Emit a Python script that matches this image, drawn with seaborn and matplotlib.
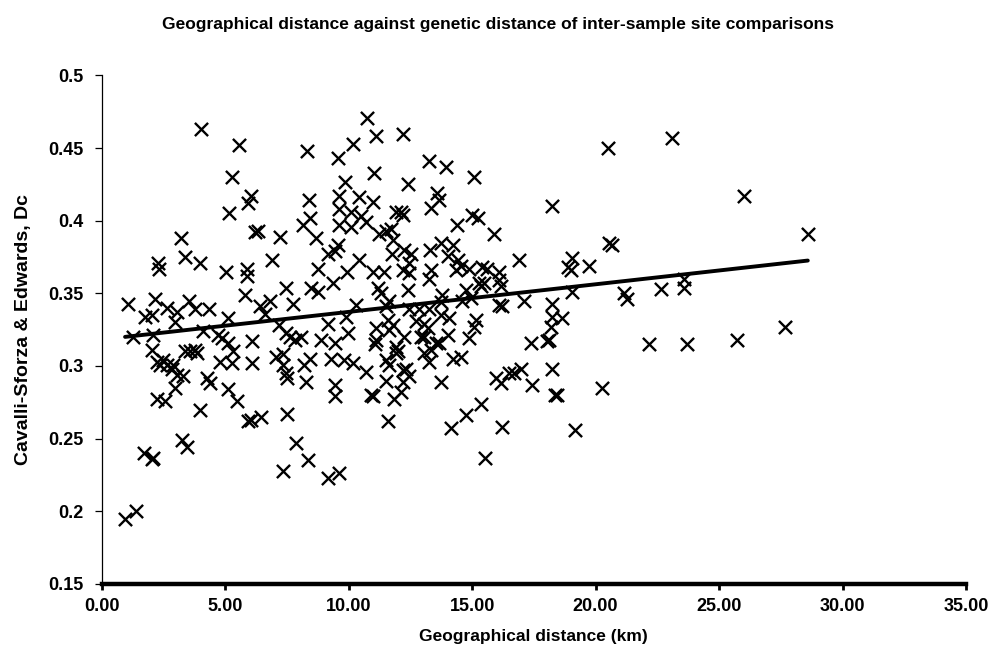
# Geographical distance vs genetic distance (Cavalli-Sforza & Edwards Dc)

import numpy as np
import pandas as pd
import matplotlib
matplotlib.use('Agg')
import matplotlib.pyplot as plt
import seaborn as sns
from matplotlib.ticker import FormatStrFormatter

# 数据
geo_km = [
    4.01, 5.56, 5.29, 6.03, 5.94, 5.17, 6.21, 3.20, 3.38, 3.98, 2.27, 2.33, 5.03, 5.90, 5.87, 5.80,
    1.05, 2.17, 1.74, 2.03, 2.64, 3.04, 3.52, 3.78, 4.36, 2.97, 5.13, 1.29, 2.10, 4.12, 4.73, 4.86, 6.07,
    2.03, 2.23, 2.50, 2.64, 2.84, 2.37, 2.91, 3.04, 3.31, 2.97, 3.38, 3.58, 3.78, 3.85, 2.23, 2.57,
    3.98, 4.25, 4.39, 5.13, 5.33, 4.79, 5.26, 5.13, 5.47, 6.07, 5.94, 1.70, 2.03, 2.10, 3.24, 3.45,
    0.95, 1.40,
    10.73, 11.11, 12.21, 10.19, 8.31, 9.56, 11.04, 9.87, 12.39, 8.39, 9.63, 10.44, 11.00, 9.60, 10.10,
    11.92, 12.12, 8.42, 8.15, 10.50, 10.71, 9.60, 10.10, 12.19, 6.33, 7.23, 8.69, 11.24, 11.51, 11.72,
    11.78, 9.56, 9.43, 9.16, 6.91, 10.41, 8.75, 9.92, 10.97, 11.45, 11.76, 12.25, 12.19, 9.38, 7.47,
    8.48, 8.75, 11.18, 11.31, 12.39, 6.80, 6.40, 6.60, 7.74, 10.30, 11.51, 11.65, 9.90, 7.20, 7.47,
    7.61, 9.16, 11.58, 11.78, 11.65, 11.11, 9.97, 8.08, 7.81, 8.89, 9.43, 11.11, 12.25, 11.92,
    7.07, 7.34, 7.34, 7.47, 7.50, 8.21, 8.42, 8.28, 9.29, 9.83, 10.17, 9.43, 9.43, 10.71, 10.91, 10.97,
    11.08, 11.51, 11.65, 11.92, 11.98, 11.51, 12.19, 12.19, 12.12, 11.85, 6.06, 6.46, 7.50, 11.58,
    7.88, 8.35, 7.34, 9.16, 9.60,
    13.24, 13.94, 15.08, 13.56, 13.64, 13.33, 18.25, 15.01, 15.22, 14.37, 15.89, 12.53, 12.46, 12.46,
    13.29, 13.33, 13.27, 13.74, 14.21, 14.01, 14.42, 14.35, 14.55, 14.88, 15.42, 15.62, 16.10, 16.10,
    16.16, 16.90, 15.28, 15.49, 15.35, 14.75, 14.61, 14.95, 13.80, 13.74, 16.10, 16.23, 17.10, 18.25,
    18.25, 18.18, 18.12, 12.46, 12.86, 13.27, 12.73, 13.06, 13.20, 13.74, 14.08, 15.15, 15.08, 12.93,
    13.06, 14.01, 13.53, 14.88, 17.37, 18.04,
    12.32, 12.46, 13.06, 13.33, 13.27, 13.67, 14.21, 14.55, 13.74, 15.96, 16.16, 16.50, 16.70, 16.97,
    17.41, 18.25, 18.36, 15.35, 14.75, 14.14, 16.23, 15.53,
    23.10, 20.51, 26.00, 20.54, 20.67, 19.05, 18.89, 18.99, 19.73, 19.03, 21.14, 21.28, 22.66, 23.57,
    23.57, 18.65, 22.15, 23.70, 25.72,
    18.45, 20.24, 19.16, 28.59, 27.67,
]
dc = [
    0.463, 0.452, 0.430, 0.417, 0.412, 0.405, 0.392, 0.388, 0.375, 0.371, 0.371, 0.367, 0.365, 0.367, 0.362, 0.349,
    0.343, 0.346, 0.334, 0.335, 0.340, 0.337, 0.345, 0.339, 0.339, 0.330, 0.333, 0.320, 0.321, 0.324, 0.321, 0.319, 0.317,
    0.311, 0.303, 0.304, 0.301, 0.298, 0.301, 0.301, 0.294, 0.293, 0.285, 0.310, 0.310, 0.311, 0.309, 0.277, 0.276,
    0.270, 0.292, 0.288, 0.316, 0.310, 0.303, 0.302, 0.284, 0.276, 0.302, 0.262, 0.240, 0.236, 0.237, 0.249, 0.244,
    0.195, 0.200,
    0.471, 0.458, 0.460, 0.453, 0.448, 0.443, 0.433, 0.427, 0.425, 0.414, 0.417, 0.416, 0.413, 0.408, 0.406,
    0.406, 0.406, 0.402, 0.397, 0.403, 0.399, 0.397, 0.396, 0.404, 0.393, 0.389, 0.388, 0.391, 0.393, 0.394,
    0.387, 0.383, 0.379, 0.377, 0.373, 0.373, 0.367, 0.365, 0.365, 0.365, 0.377, 0.380, 0.366, 0.357, 0.354,
    0.354, 0.351, 0.354, 0.350, 0.352, 0.345, 0.341, 0.336, 0.343, 0.342, 0.341, 0.345, 0.334, 0.328, 0.323,
    0.320, 0.329, 0.332, 0.328, 0.325, 0.326, 0.323, 0.320, 0.318, 0.318, 0.316, 0.318, 0.320, 0.313,
    0.306, 0.308, 0.301, 0.295, 0.292, 0.301, 0.305, 0.289, 0.305, 0.304, 0.302, 0.287, 0.279, 0.296, 0.280, 0.279,
    0.315, 0.304, 0.301, 0.309, 0.310, 0.290, 0.297, 0.289, 0.282, 0.277, 0.263, 0.265, 0.267, 0.262,
    0.247, 0.235, 0.228, 0.223, 0.226,
    0.441, 0.437, 0.430, 0.419, 0.414, 0.409, 0.410, 0.404, 0.402, 0.397, 0.391, 0.377, 0.371, 0.364,
    0.380, 0.366, 0.360, 0.385, 0.383, 0.376, 0.373, 0.366, 0.369, 0.367, 0.368, 0.367, 0.365, 0.359,
    0.355, 0.373, 0.357, 0.357, 0.355, 0.352, 0.345, 0.347, 0.349, 0.344, 0.342, 0.341, 0.345, 0.343,
    0.334, 0.327, 0.318, 0.339, 0.339, 0.339, 0.331, 0.329, 0.326, 0.335, 0.333, 0.332, 0.327, 0.320,
    0.320, 0.321, 0.316, 0.319, 0.316, 0.317,
    0.298, 0.293, 0.309, 0.311, 0.303, 0.316, 0.305, 0.306, 0.289, 0.292, 0.288, 0.295, 0.295, 0.298,
    0.287, 0.298, 0.280, 0.274, 0.266, 0.257, 0.258, 0.237,
    0.457, 0.450, 0.417, 0.385, 0.383, 0.374, 0.368, 0.366, 0.369, 0.351, 0.350, 0.346, 0.353, 0.360,
    0.354, 0.333, 0.315, 0.315, 0.318,
    0.280, 0.285, 0.256, 0.391, 0.327,
]

x_ticks = np.arange(0, 35.01, 5)
y_ticks = [0.15, 0.2, 0.25, 0.3, 0.35, 0.4, 0.45, 0.5]

df = pd.DataFrame({'geo': geo_km, 'dc': dc})

sns.set_style('white')
plt.rcParams['font.family'] = ['Liberation Sans', 'DejaVu Sans']
plt.rcParams['text.color'] = 'black'
plt.rcParams['axes.labelcolor'] = 'black'
plt.rcParams['xtick.color'] = 'black'
plt.rcParams['ytick.color'] = 'black'

fig, ax = plt.subplots(figsize=(9.96, 6.62), dpi=100)
plt.subplots_adjust(left=0.102, right=0.970, top=0.886, bottom=0.118)

# 散点
sns.scatterplot(data=df, x='geo', y='dc', marker='x', color='black',
                s=90, linewidth=1.7, ax=ax, legend=False)

# 趋势线
sns.regplot(data=df, x='geo', y='dc', scatter=False, ci=None, color='black',
            line_kws={'linewidth': 2.8}, ax=ax)

ax.set_xlim(0, 35)
ax.set_ylim(0.15, 0.5)
ax.set_xticks(x_ticks)
ax.set_yticks(y_ticks)
ax.xaxis.set_major_formatter(FormatStrFormatter('%.2f'))
ax.yaxis.set_major_formatter(FormatStrFormatter('%g'))

ax.spines['top'].set_visible(False)
ax.spines['right'].set_visible(False)
ax.spines['left'].set_color('black')
ax.spines['left'].set_linewidth(0.9)
ax.spines['bottom'].set_color('black')
ax.spines['bottom'].set_linewidth(3.2)

ax.tick_params(axis='y', direction='out', length=5, width=0.9, left=True,
               labelsize=13, pad=8)
ax.tick_params(axis='x', direction='out', length=4, width=2, bottom=True,
               labelsize=13, pad=6)
for label in (ax.get_xticklabels() + ax.get_yticklabels()):
    label.set_fontweight('bold')

ax.set_xlabel('Geographical distance (km)', fontsize=12.5, fontweight='bold', labelpad=10)
ax.set_ylabel('Cavalli-Sforza & Edwards, Dc', fontsize=14, fontweight='bold', labelpad=12)
fig.suptitle('Geographical distance against genetic distance of inter-sample site comparisons',
             fontsize=12.5, fontweight='bold', y=0.975)

plt.savefig('out.png', dpi=100)
